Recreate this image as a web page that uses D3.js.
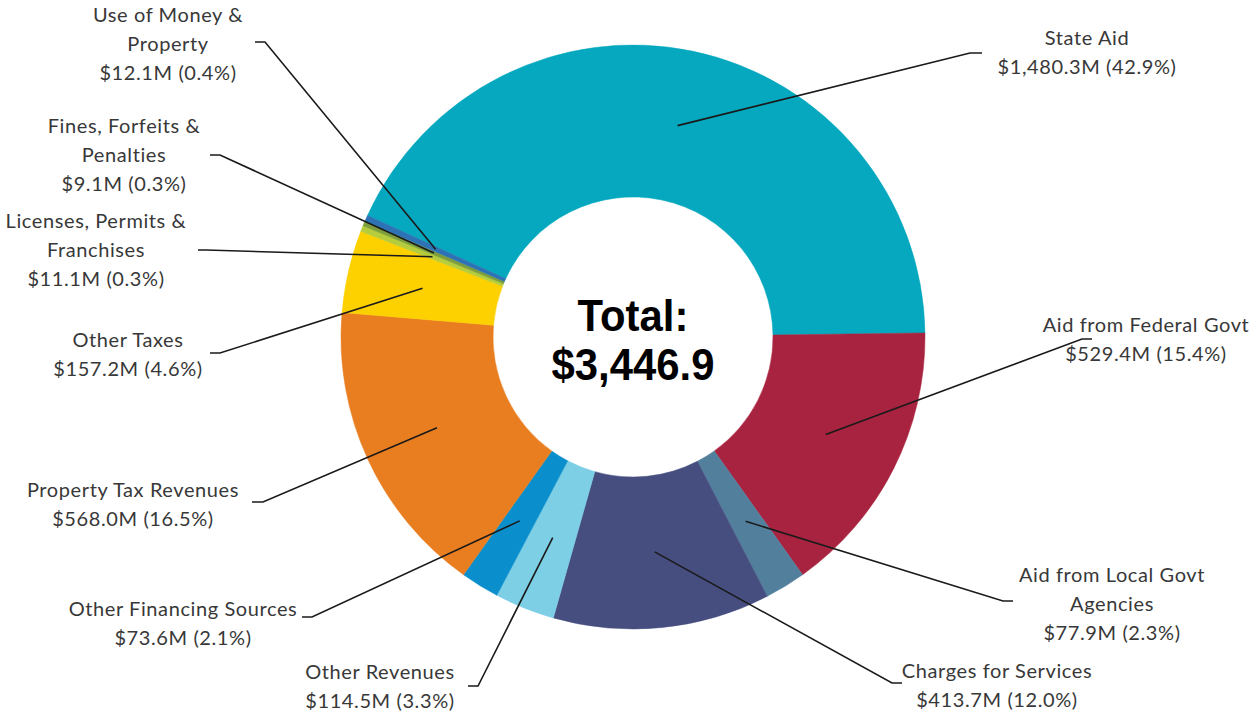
<!DOCTYPE html>
<html>
<head>
<meta charset="utf-8">
<script src="https://cdn.jsdelivr.net/npm/d3@7"></script>
<style>
  html, body { margin: 0; padding: 0; background: #ffffff; }
  svg { display: block; }
</style>
</head>
<body>
<svg id="chart" width="1257" height="714"></svg>
<script>
// ---- data ----
const categories = [
  "State Aid", "Aid from Federal Govt", "Aid from Local Govt Agencies",
  "Charges for Services", "Other Revenues", "Other Financing Sources",
  "Property Tax Revenues", "Other Taxes", "Licenses, Permits & Franchises",
  "Fines, Forfeits & Penalties", "Use of Money & Property"
];
const values = [1480.3, 529.4, 77.9, 413.7, 114.5, 73.6, 568.0, 157.2, 11.1, 9.1, 12.1];
const valueLabels = [
  "$1,480.3M (42.9%)", "$529.4M (15.4%)", "$77.9M (2.3%)", "$413.7M (12.0%)",
  "$114.5M (3.3%)", "$73.6M (2.1%)", "$568.0M (16.5%)", "$157.2M (4.6%)",
  "$11.1M (0.3%)", "$9.1M (0.3%)", "$12.1M (0.4%)"
];
const nameLines = [
  ["State Aid"], ["Aid from Federal Govt"], ["Aid from Local Govt", "Agencies"],
  ["Charges for Services"], ["Other Revenues"], ["Other Financing Sources"],
  ["Property Tax Revenues"], ["Other Taxes"], ["Licenses, Permits &", "Franchises"],
  ["Fines, Forfeits &", "Penalties"], ["Use of Money &", "Property"]
];
const colors = [
  "#05a8be", "#a8233f", "#527f9c", "#464e80", "#7dcfe6", "#0b8fcc",
  "#e97e20", "#fdd000", "#b5cd3d", "#7d9e3b", "#2c72b4"
];
const totalLines = ["Total:", "$3,446.9"];

// ---- layout (positions only) ----
const cx = 633, cy = 337, rOuter = 292, rInner = 140;
const startDeg = -65.4;
// label text center x, first baseline y; leader elbow (x,y) and end x
const labelLayout = [
  {tx: 1087, ty: 45,  ex: 970,  ey: 53,  endx: 982},
  {tx: 1146, ty: 332, ex: 1082, ey: 339, endx: 1092},
  {tx: 1112, ty: 582, ex: 1003, ey: 601, endx: 1013},
  {tx: 997,  ty: 678, ex: 892,  ey: 683, endx: 902},
  {tx: 380,  ty: 679, ex: 478,  ey: 686, endx: 468},
  {tx: 183,  ty: 616, ex: 312,  ey: 617, endx: 302},
  {tx: 133,  ty: 497, ex: 263,  ey: 502, endx: 252},
  {tx: 128,  ty: 347, ex: 220,  ey: 353, endx: 210},
  {tx: 96,   ty: 228, ex: 206,  ey: 250, endx: 198},
  {tx: 124,  ty: 133, ex: 220,  ey: 155, endx: 210},
  {tx: 168,  ty: 22,  ex: 265,  ey: 42,  endx: 255}
];
const lineH = 29;

const svg = d3.select("#chart");
const g = svg.append("g").attr("transform", `translate(${cx},${cy})`);

const start = startDeg * Math.PI / 180;
const pie = d3.pie().sort(null).value(d => d.v).startAngle(start).endAngle(start + 2 * Math.PI);
const arc = d3.arc().innerRadius(rInner).outerRadius(rOuter);

const data = categories.map((c, i) => ({c, v: values[i], i}));
const arcs = pie(data);

g.selectAll("path.slice").data(arcs).join("path")
  .attr("class", "slice")
  .attr("d", arc)
  .attr("fill", d => colors[d.data.i])
  .attr("stroke", d => colors[d.data.i])
  .attr("stroke-width", 0.5);

// leader lines
svg.append("g").selectAll("path.leader").data(arcs).join("path")
  .attr("class", "leader")
  .attr("fill", "none")
  .attr("stroke", "#1a1a1a")
  .attr("stroke-width", 1.6)
  .attr("d", d => {
    const c = arc.centroid(d);
    const L = labelLayout[d.data.i];
    return d3.line()([[cx + c[0], cy + c[1]], [L.ex, L.ey], [L.endx, L.ey]]);
  });

// labels
const lg = svg.append("g")
  .attr("font-family", "Lato, 'Open Sans', sans-serif")
  .attr("font-size", 20)
  .attr("letter-spacing", 0.6)
  .attr("fill", "#383838")
  .attr("text-anchor", "middle");

data.forEach((d, i) => {
  const L = labelLayout[i];
  const lines = nameLines[i].concat([valueLabels[i]]);
  const t = lg.append("text").attr("x", L.tx).attr("y", L.ty);
  lines.forEach((s, k) => {
    t.append("tspan").attr("x", L.tx).attr("y", L.ty + k * lineH).text(s);
  });
});

// center total
const tg = svg.append("g")
  .attr("transform", `translate(${cx},0) scale(0.93,1)`)
  .attr("font-family", "'Liberation Sans', Arial, sans-serif")
  .attr("font-weight", "bold")
  .attr("font-size", 45)
  .attr("fill", "#000")
  .attr("text-anchor", "middle");
tg.append("text").attr("x", 0).attr("y", 331).text(totalLines[0]);
tg.append("text").attr("x", 0).attr("y", 380).text(totalLines[1]);
</script>
</body>
</html>
